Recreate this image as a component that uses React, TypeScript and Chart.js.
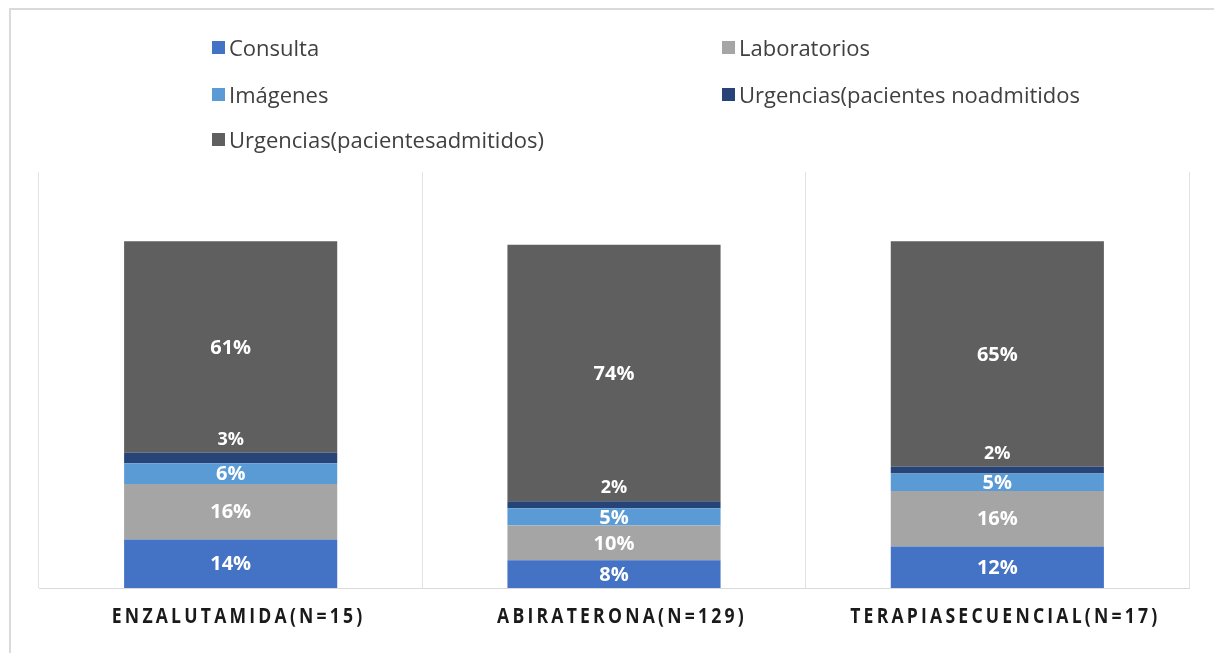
import React, { useEffect, useRef } from "react";
import { Chart, registerables } from "chart.js";
Chart.register(...registerables);

const categories = ["ENZALUTAMIDA(N=15)", "ABIRATERONA(N=129)", "TERAPIASECUENCIAL(N=17)"];
const seriesNames = [
  "Consulta",
  "Laboratorios",
  "Imágenes",
  "Urgencias(pacientes noadmitidos",
  "Urgencias(pacientesadmitidos)",
];
const consulta = [14, 8, 12];
const laboratorios = [16, 10, 16];
const imagenes = [6, 5, 5];
const urgNoAdmitidos = [3, 2, 2];
const urgAdmitidos = [61, 74, 65];
const seriesColors = ["#4472C4", "#A5A5A5", "#5B9BD5", "#264478", "#5F5F5F"];
const seriesValues = [consulta, laboratorios, imagenes, urgNoAdmitidos, urgAdmitidos];

const FONT = '"Open Sans", sans-serif';

const dataLabelPlugin = {
  id: "segLabels",
  afterDatasetsDraw(chart: any) {
    const ctx = chart.ctx;
    ctx.save();
    ctx.fillStyle = "#ffffff";
    ctx.textAlign = "center";
    ctx.textBaseline = "middle";
    chart.data.datasets.forEach((ds: any, di: number) => {
      const meta = chart.getDatasetMeta(di);
      meta.data.forEach((el: any, i: number) => {
        const v = ds.data[i];
        let y = (el.y + el.base) / 2;
        if (di === 3) {
          ctx.font = `bold 18px ${FONT}`;
          y = el.y - 14;
        } else {
          ctx.font = `bold 20px ${FONT}`;
        }
        ctx.fillText(`${v}%`, el.x, y + 1);
      });
    });
    ctx.restore();
  },
};

const xLabelPlugin = {
  id: "spacedXLabels",
  afterDraw(chart: any) {
    const ctx = chart.ctx;
    const xs = chart.scales.x;
    const sx = 0.8;
    ctx.save();
    ctx.fillStyle = "#1a1a1a";
    ctx.font = `bold 22px ${FONT}`;
    (ctx as any).letterSpacing = "4px";
    ctx.textAlign = "center";
    ctx.textBaseline = "middle";
    ctx.scale(sx, 1);
    chart.data.labels.forEach((lab: string, i: number) => {
      ctx.fillText(lab, (xs.getPixelForValue(i) + 8) / sx, 617);
    });
    ctx.restore();
  },
};

export default function App() {
  const ref = useRef<HTMLCanvasElement | null>(null);
  useEffect(() => {
    if (!ref.current) return;
    const chart = new Chart(ref.current, {
      type: "bar",
      data: {
        labels: categories,
        datasets: seriesNames.map((name, i) => ({
          label: name,
          data: seriesValues[i],
          backgroundColor: seriesColors[i],
          borderWidth: 0,
          categoryPercentage: 1,
          barPercentage: 0.556,
        })),
      },
      options: {
        animation: false,
        responsive: false,
        maintainAspectRatio: false,
        layout: { padding: { left: 39, right: 25, top: 172, bottom: 65 } },
        plugins: {
          legend: { display: false },
          tooltip: { enabled: false },
        },
        scales: {
          x: {
            stacked: true,
            ticks: { display: false },
            grid: { color: "#e3e3e3", lineWidth: 1, drawTicks: false, offset: true },
            border: { color: "#d9d9d9", width: 1 },
          },
          y: {
            stacked: true,
            display: false,
            min: 0,
            max: 120,
          },
        },
      },
      plugins: [dataLabelPlugin, xLabelPlugin],
    });
    return () => chart.destroy();
  }, []);

  const legendPos = [
    { x: 212, y: 47 },
    { x: 722, y: 47 },
    { x: 212, y: 94 },
    { x: 722, y: 94 },
    { x: 212, y: 139 },
  ];

  return (
    <div style={{ position: "fixed", left: 0, top: 0, width: 1214, height: 653, overflow: "hidden", background: "#fff" }}>
      <div
        style={{
          position: "absolute",
          left: 9,
          top: 8,
          width: 1400,
          height: 800,
          border: "2px solid #dadada",
          boxSizing: "border-box",
        }}
      />
      <canvas ref={ref} width={1214} height={653} style={{ position: "absolute", left: 0, top: 0 }} />
      {seriesNames.map((name, i) => (
        <div
          key={name}
          style={{
            position: "absolute",
            left: legendPos[i].x,
            top: legendPos[i].y - 14,
            height: 28,
            display: "flex",
            alignItems: "center",
            whiteSpace: "nowrap",
            fontFamily: FONT,
            fontSize: 22,
            color: "#404040",
          }}
        >
          <span style={{ display: "inline-block", width: 13, height: 13, background: seriesColors[i], marginRight: 4 }} />
          <span>{name}</span>
        </div>
      ))}
    </div>
  );
}
